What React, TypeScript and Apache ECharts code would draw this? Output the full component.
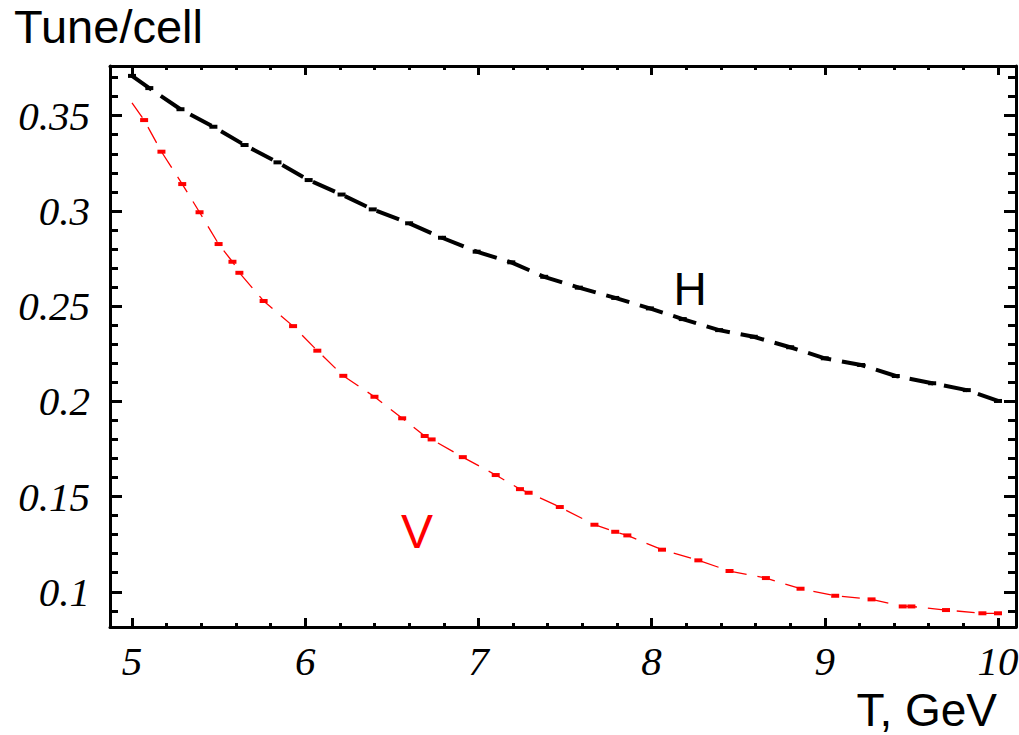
import React, { useEffect, useRef } from "react";
import * as echarts from "echarts";

// Horizontal tune per cell versus beam energy T
const hT = [5.0, 5.1, 5.28, 5.47, 5.65, 5.84, 6.02, 6.21, 6.39, 6.6, 6.79, 6.99, 7.19, 7.38, 7.58, 7.79, 7.99, 8.18, 8.39, 8.59, 8.8, 9.0, 9.21, 9.41, 9.62, 9.82, 10.0];
const hTune = [0.3709, 0.3645, 0.3534, 0.3442, 0.3346, 0.3255, 0.3162, 0.3086, 0.3008, 0.2935, 0.2859, 0.2786, 0.273, 0.2654, 0.2597, 0.2543, 0.2488, 0.2432, 0.2374, 0.2339, 0.2284, 0.2226, 0.2191, 0.2133, 0.2095, 0.2059, 0.2002];

// Vertical tune per cell versus beam energy T
const vT = [5.0, 5.07, 5.17, 5.29, 5.39, 5.5, 5.58, 5.62, 5.76, 5.93, 6.07, 6.22, 6.4, 6.56, 6.69, 6.73, 6.91, 7.1, 7.24, 7.29, 7.47, 7.67, 7.79, 7.86, 8.06, 8.27, 8.45, 8.66, 8.86, 9.06, 9.27, 9.45, 9.5, 9.7, 9.91, 10.0];
const vTune = [0.3567, 0.3477, 0.3311, 0.3141, 0.2993, 0.2826, 0.2733, 0.2675, 0.2527, 0.2395, 0.2266, 0.2134, 0.2024, 0.1911, 0.1818, 0.18, 0.1707, 0.1613, 0.1539, 0.152, 0.1445, 0.1352, 0.1315, 0.1296, 0.1221, 0.1165, 0.1109, 0.1072, 0.1016, 0.0979, 0.096, 0.0923, 0.0923, 0.0904, 0.0887, 0.0887];

// Axis ranges and ticks
const xRange = [4.873, 10.104];
const yRange = [0.0815, 0.3761];
const xMajorTicks = [5, 6, 7, 8, 9, 10];
const xTickLabels = ["5", "6", "7", "8", "9", "10"];
const xMinorTicks = [
  5.2, 5.4, 5.6, 5.8, 6.2, 6.4, 6.6, 6.8, 7.2, 7.4, 7.6, 7.8,
  8.2, 8.4, 8.6, 8.8, 9.2, 9.4, 9.6, 9.8,
];
const yMajorTicks = [0.1, 0.15, 0.2, 0.25, 0.3, 0.35];
const yTickLabels = ["0.1", "0.15", "0.2", "0.25", "0.3", "0.35"];
const yMinorTicks = [
  0.09, 0.11, 0.12, 0.13, 0.14, 0.16, 0.17, 0.18, 0.19, 0.21, 0.22, 0.23, 0.24,
  0.26, 0.27, 0.28, 0.29, 0.31, 0.32, 0.33, 0.34, 0.36, 0.37,
];

const SERIF = "'Liberation Serif', 'Times New Roman', serif";
const SANS = "'Liberation Sans', Arial, sans-serif";

function labelFor(values: number[], labels: string[]) {
  return (v: number) => {
    const i = values.findIndex((t) => Math.abs(t - v) < 1e-6);
    return i >= 0 ? labels[i] : "";
  };
}

function xAxisDef(position: "bottom" | "top", major: boolean) {
  return {
    type: "value",
    position,
    min: xRange[0],
    max: xRange[1],
    axisLine: { show: major, onZero: false, lineStyle: { color: "#000", width: 3 } },
    axisTick: {
      show: true,
      inside: true,
      length: major ? 9 : 4,
      customValues: major ? xMajorTicks : xMinorTicks,
      lineStyle: { color: "#000", width: 3 },
    },
    axisLabel: {
      show: major && position === "bottom",
      customValues: xMajorTicks,
      formatter: labelFor(xMajorTicks, xTickLabels),
      margin: 13,
      color: "#000",
      fontFamily: SERIF,
      fontStyle: "italic",
      fontSize: 41,
    },
    splitLine: { show: false },
  };
}

function yAxisDef(position: "left" | "right", major: boolean) {
  return {
    type: "value",
    position,
    min: yRange[0],
    max: yRange[1],
    axisLine: { show: major, onZero: false, lineStyle: { color: "#000", width: 3 } },
    axisTick: {
      show: true,
      inside: true,
      length: major ? 12 : 8,
      customValues: major ? yMajorTicks : yMinorTicks,
      lineStyle: { color: "#000", width: 3 },
    },
    axisLabel: {
      show: major && position === "left",
      customValues: yMajorTicks,
      formatter: labelFor(yMajorTicks, yTickLabels),
      margin: 20,
      color: "#000",
      fontFamily: SERIF,
      fontStyle: "italic",
      fontSize: 41,
    },
    splitLine: { show: false },
  };
}

export default function App() {
  const ref = useRef<HTMLDivElement>(null);

  useEffect(() => {
    if (!ref.current) return;
    const chart = echarts.init(ref.current, null, { renderer: "svg" });

    const hData = hT.map((t, i) => [t, hTune[i]]);
    const vData = vT.map((t, i) =>
      i === 0 ? { value: [t, vTune[i]], symbol: "none" } : [t, vTune[i]]
    );

    chart.setOption({
      animation: false,
      backgroundColor: "#fff",
      grid: { left: 110, right: 3, top: 66, bottom: 108, containLabel: false, outerBoundsMode: "none" },
      xAxis: [
        xAxisDef("bottom", true),
        xAxisDef("bottom", false),
        xAxisDef("top", true),
        xAxisDef("top", false),
      ],
      yAxis: [
        yAxisDef("left", true),
        yAxisDef("left", false),
        yAxisDef("right", true),
        yAxisDef("right", false),
      ],
      series: [
        {
          name: "H",
          type: "line",
          xAxisIndex: 0,
          yAxisIndex: 0,
          data: hData,
          showSymbol: true,
          symbol: "rect",
          symbolSize: [8, 4],
          itemStyle: { color: "#000" },
          lineStyle: { color: "#000", width: 4, type: [24, 11] },
          silent: true,
        },
        {
          name: "V",
          type: "line",
          xAxisIndex: 0,
          yAxisIndex: 0,
          data: vData,
          showSymbol: true,
          symbol: "rect",
          symbolSize: [8, 4],
          itemStyle: { color: "#ff0000" },
          lineStyle: { color: "#ff0000", width: 1.3, type: [18, 11] },
          silent: true,
        },
      ],
      graphic: [
        {
          type: "text",
          left: 14,
          top: 3,
          style: { text: "Tune/cell", fontFamily: SANS, fontSize: 47, fill: "#000" },
        },
        {
          type: "text",
          x: 997,
          y: 687,
          style: {
            text: "T, GeV",
            fontFamily: SANS,
            fontSize: 46,
            fill: "#000",
            align: "right",
            verticalAlign: "top",
          },
        },
        {
          type: "text",
          x: 690,
          y: 289,
          style: {
            text: "H",
            fontFamily: SANS,
            fontSize: 46,
            fill: "#000",
            align: "center",
            verticalAlign: "middle",
          },
        },
        {
          type: "text",
          x: 417,
          y: 531,
          style: {
            text: "V",
            fontFamily: SANS,
            fontSize: 48,
            fill: "#ff0000",
            align: "center",
            verticalAlign: "middle",
          },
        },
      ],
    });

    return () => chart.dispose();
  }, []);

  return (
    <div
      ref={ref}
      style={{ position: "fixed", left: 0, top: 0, width: 1019, height: 735, background: "#fff" }}
    />
  );
}
